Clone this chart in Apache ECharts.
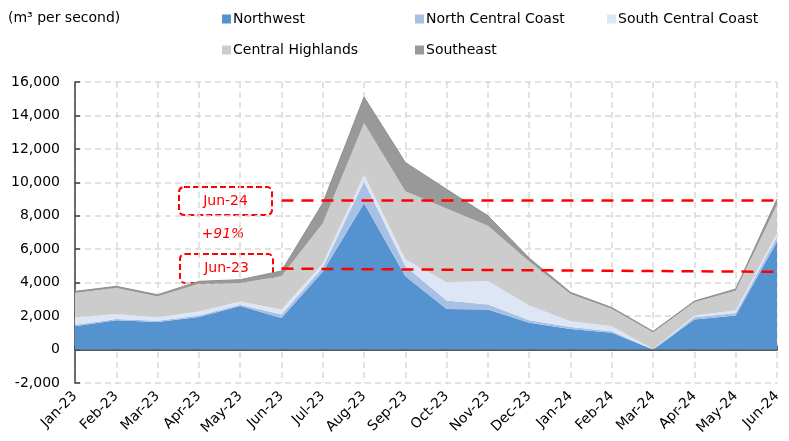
<!DOCTYPE html>
<html>
<head>
<meta charset="utf-8">
<script src="https://cdn.jsdelivr.net/npm/echarts@6/dist/echarts.min.js"></script>
<style>
  html, body { margin: 0; padding: 0; background: #fff; }
  #chart { width: 789px; height: 441px; }
</style>
</head>
<body>
<div id="chart"></div>
<script>
// Monthly river flow by region, m³ per second
const months = ['Jan-23','Feb-23','Mar-23','Apr-23','May-23','Jun-23','Jul-23','Aug-23','Sep-23',
                'Oct-23','Nov-23','Dec-23','Jan-24','Feb-24','Mar-24','Apr-24','May-24','Jun-24'];

const northwest          = [1400, 1750, 1650, 1950, 2600, 1890, 4650, 8750, 4380, 2430, 2400, 1600, 1230, 1000,    0, 1790, 2030, 6450];
const northCentralCoast  = [  80,   80,   80,   80,   80,  200,  250, 1300,  600,  500,  300,  150,  120,   90,    0,  140,  160,  280];
const southCentralCoast  = [ 450,  300,  200,  250,  200,  300,  250,  400,  400, 1100, 1400,  880,  340,  300,   20,  100,  140,  230];
const centralHighlands   = [1450, 1550, 1250, 1650, 1100, 1990, 2400, 3100, 4080, 4400, 3300, 2640, 1630, 1040, 1000,  800, 1190, 1700];
const southeast          = [ 100,  100,  100,  150,  200,  320, 1200, 1550, 1730, 1150,  600,  200,  100,   80,   70,   70,  100,  340];

const yTicks = { min: -2000, max: 16000, step: 2000 };

// Dashed reference levels drawn from Jun-23 to Jun-24
const levelJun24 = [8925, 8925];
const levelJun23 = [4840, 4650];
const changeLabel = '+91%';

const FONT = 'DejaVu Sans';
const RED = '#ff0000';

const seriesDefs = [
  { name: 'Northwest',           data: northwest,         color: '#5592d0' },
  { name: 'North Central Coast', data: northCentralCoast, color: '#a9c0e5' },
  { name: 'South Central Coast', data: southCentralCoast, color: '#dde6f5' },
  { name: 'Central Highlands',   data: centralHighlands,  color: '#cccccc' },
  { name: 'Southeast',           data: southeast,         color: '#999999' }
];

const series = seriesDefs.map(d => ({
  name: d.name,
  type: 'line',
  stack: 'flow',
  data: d.data,
  symbol: 'none',
  color: d.color,
  lineStyle: { width: 0 },
  areaStyle: { color: d.color, opacity: 1 },
  silent: true,
  z: 2
}));

// thin outline along the top of the stack
series[4].lineStyle = { width: 1, color: '#8f8f8f' };

// reference lines ride on the top series
series[4].markLine = {
  silent: true,
  symbol: 'none',
  label: { show: false },
  lineStyle: { color: RED, type: [12, 8], width: 2.5 },
  data: [
    [{ coord: ['Jun-23', levelJun24[0]] }, { coord: ['Jun-24', levelJun24[1]] }],
    [{ coord: ['Jun-23', levelJun23[0]] }, { coord: ['Jun-24', levelJun23[1]] }]
  ]
};

// one legend block per entry, laid out on a 3-column grid
const legendPos = [
  { left: 222, top: 12 }, { left: 415, top: 12 }, { left: 607, top: 12 },
  { left: 222, top: 43 }, { left: 415, top: 43 }
];
const legends = seriesDefs.map((d, i) => ({
  data: [d.name],
  left: legendPos[i].left,
  top: legendPos[i].top,
  icon: 'rect',
  itemWidth: 9,
  itemHeight: 9,
  itemGap: 0,
  padding: 0,
  selectedMode: false,
  textStyle: { fontFamily: FONT, fontSize: 14, color: '#000', padding: [0, 0, 0, -3] }
}));

const chart = echarts.init(document.getElementById('chart'), null, { renderer: 'canvas' });

chart.setOption({
  animation: false,
  backgroundColor: '#fff',
  legend: legends,
  grid: { left: 75, right: 12, top: 82, bottom: 58, containLabel: false },
  xAxis: [
    {
      type: 'category',
      data: months,
      boundaryGap: false,
      position: 'bottom',
      axisLine: { show: false, onZero: false },
      axisTick: { show: false },
      axisLabel: {
        interval: 0, rotate: 45, margin: 11,
        fontFamily: FONT, fontSize: 14, color: '#000'
      },
      splitLine: { show: true, interval: 0, lineStyle: { color: '#d9d9d9', type: [6, 4], width: 1.5 } }
    },
    {
      type: 'category',
      data: months,
      boundaryGap: false,
      position: 'top',
      axisLine: { show: true, onZero: true, lineStyle: { color: '#595959', width: 2 } },
      axisTick: { show: true, interval: 0, length: 4, lineStyle: { color: '#404040', width: 1.5 } },
      axisLabel: { show: false },
      splitLine: { show: false }
    }
  ],
  yAxis: {
    type: 'value',
    min: yTicks.min,
    max: yTicks.max,
    interval: yTicks.step,
    axisLine: { show: true, lineStyle: { color: '#404040', width: 1.5 } },
    axisTick: { show: true, inside: true, length: 5, lineStyle: { color: '#404040', width: 1.5 } },
    axisLabel: {
      margin: 15,
      fontFamily: FONT, fontSize: 14, color: '#000',
      formatter: v => v.toLocaleString('en-US')
    },
    splitLine: { show: true, lineStyle: { color: '#d9d9d9', type: [6, 4], width: 1.5 } }
  },
  series: series,
  graphic: [
    {
      type: 'text', left: 8, top: 11,
      style: { text: '(m³ per second)', fontFamily: FONT, fontSize: 14, fill: '#000' }
    },
    {
      type: 'group', left: 178, top: 186,
      children: [
        { type: 'rect', shape: { x: 0, y: 0, width: 93, height: 28, r: 5 },
          style: { fill: '#fff', stroke: RED, lineWidth: 2, lineDash: [6, 3] } },
        { type: 'text', x: 46.5, y: 14,
          style: { text: 'Jun-24', fontFamily: FONT, fontSize: 14, fill: RED, align: 'center', verticalAlign: 'middle' } }
      ]
    },
    {
      type: 'text', x: 223, y: 234,
      style: { text: changeLabel, fontFamily: FONT, fontSize: 14, fontStyle: 'italic', fill: RED, align: 'center', verticalAlign: 'middle' }
    },
    {
      type: 'group', left: 179, top: 253,
      children: [
        { type: 'rect', shape: { x: 0, y: 0, width: 93, height: 29, r: 5 },
          style: { fill: '#fff', stroke: RED, lineWidth: 2, lineDash: [6, 3] } },
        { type: 'text', x: 46.5, y: 14.5,
          style: { text: 'Jun-23', fontFamily: FONT, fontSize: 14, fill: RED, align: 'center', verticalAlign: 'middle' } }
      ]
    }
  ]
});
</script>
</body>
</html>
